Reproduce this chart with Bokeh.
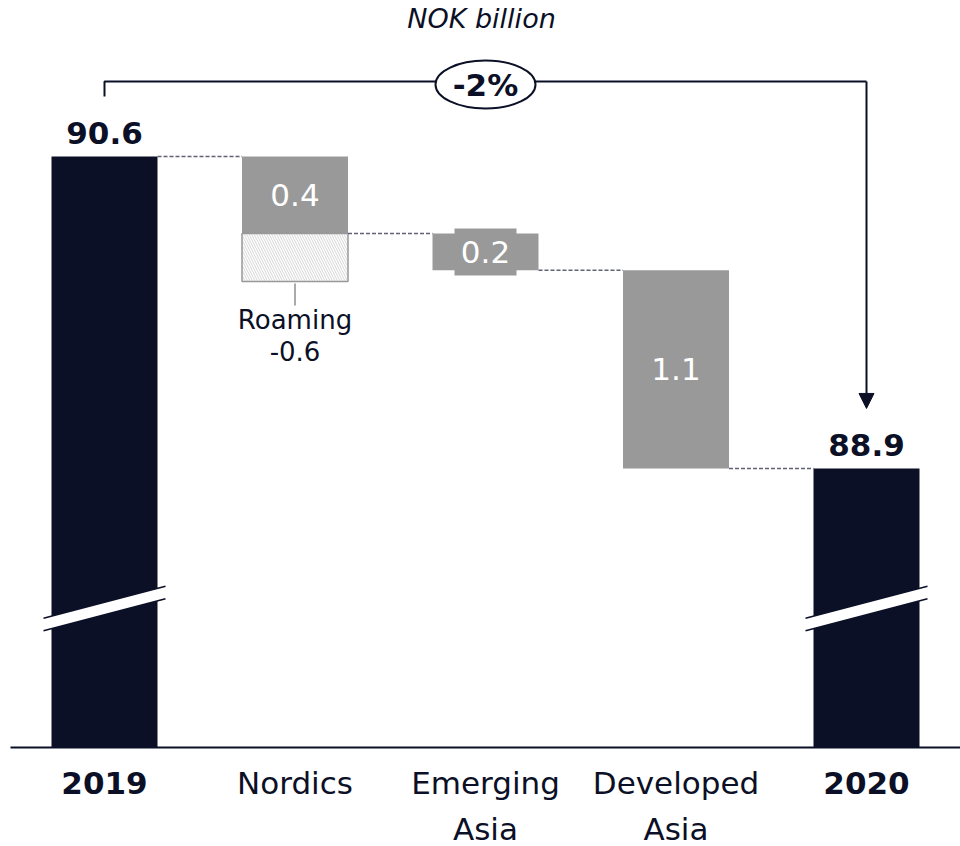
from bokeh.plotting import figure
from bokeh.models import Range1d, Arrow, NormalHead
from bokeh.core.properties import value
from bokeh.embed import file_html
from bokeh.resources import INLINE

# ---------------- data ----------------
categories = ["2019", "Nordics", "Emerging Asia", "Developed Asia", "2020"]
label_line1 = ["2019", "Nordics", "Emerging", "Developed", "2020"]
label_line2 = ["", "", "Asia", "Asia", ""]
start_value = 90.6
end_value = 88.9
changes = [-0.42, -0.20, -1.08]
change_labels = ["0.4", "0.2", "1.1"]
total_labels = ["90.6", "88.9"]
roaming_name = "Roaming"
roaming_value = "-0.6"
growth_label = "-2%"
unit_label = "NOK billion"

# ---------------- style ----------------
NAVY = "#0b1026"
GRAY = "#999999"
DASH = "#5f6274"
FONT = "DejaVu Sans"
K_X = 190.5          # px per category step
K_Y = 183.5          # px per NOK billion
W, H = 960, 846
BAR_W = 106 / K_X
FS = "31px"

x0 = -104 / K_X
x1 = x0 + W / K_X
y1 = start_value + 156 / K_Y
y0 = y1 - H / K_Y
base = start_value - 591 / K_Y     # broken-axis floor

p = figure(width=W, height=H, x_range=Range1d(x0, x1), y_range=Range1d(y0, y1),
           output_backend="svg", toolbar_location=None, min_border=0,
           min_border_left=0, min_border_right=0, min_border_top=0, min_border_bottom=0)
p.axis.visible = False
p.grid.visible = False
p.outline_line_color = None
p.background_fill_color = "white"

xs = list(range(len(categories)))

# totals
p.vbar(x=[xs[0], xs[-1]], top=[start_value, end_value], bottom=base, width=BAR_W,
       fill_color=NAVY, line_color=None)

# floating bars
tops, bottoms = [], []
level = start_value
for c in changes:
    tops.append(level)
    level = level + c
    bottoms.append(level)
mid_x = xs[1:-1]
p.vbar(x=mid_x, top=tops, bottom=bottoms, width=BAR_W, fill_color=GRAY, line_color=None)

# hatched roaming box under Nordics
hatch_h = 48 / K_Y
p.vbar(x=[mid_x[0]], top=[bottoms[0]], bottom=[bottoms[0] - hatch_h], width=BAR_W,
       fill_color="white", line_color=GRAY, line_width=1.5,
       hatch_pattern="left_diagonal_line", hatch_color="#d6d6d6", hatch_scale=5, hatch_weight=1)
p.segment(x0=[mid_x[0]], y0=[bottoms[0] - hatch_h - 2 / K_Y], x1=[mid_x[0]],
          y1=[bottoms[0] - hatch_h - 24 / K_Y], line_color="#aaaaaa", line_width=2)
p.text(x=[mid_x[0]], y=[bottoms[0] - hatch_h], text=[roaming_name], text_font=value(FONT),
       text_font_size="26px", text_align="center", text_baseline="middle",
       text_color=NAVY, y_offset=38)
p.text(x=[mid_x[0]], y=[bottoms[0] - hatch_h], text=[roaming_value], text_font=value(FONT),
       text_font_size="26px", text_align="center", text_baseline="middle",
       text_color=NAVY, y_offset=69)

# dashed connectors
levels = [start_value] + bottoms
for i, lv in enumerate(levels):
    p.line(x=[xs[i] + BAR_W / 2, xs[i + 1] - BAR_W / 2], y=[lv, lv],
           line_color=DASH, line_width=1.4, line_dash="4 2")

# label background patch for Emerging Asia value
p.rect(x=[mid_x[1]], y=[(tops[1] + bottoms[1]) / 2], width=62, height=47,
       width_units="screen", height_units="screen", fill_color=GRAY, line_color=None)

# bar value labels
p.text(x=mid_x, y=[(t + b) / 2 for t, b in zip(tops, bottoms)], text=change_labels,
       text_font=value(FONT), text_font_size=FS, text_align="center",
       text_baseline="middle", text_color="white")

# total labels
p.text(x=[xs[0]], y=[start_value], text=[total_labels[0]], text_font=value(FONT),
       text_font_size=FS, text_font_style="bold", text_align="center",
       text_baseline="middle", text_color=NAVY, y_offset=-24)
p.text(x=[xs[-1]], y=[end_value], text=[total_labels[1]], text_font=value(FONT),
       text_font_size=FS, text_font_style="bold", text_align="center",
       text_baseline="middle", text_color=NAVY, y_offset=-23)

# axis break marks
brk = start_value - 452 / K_Y
half = 61 / K_X
slope = 32 / K_Y            # total rise across the band
th = 6.25 / K_Y
for cx in [xs[0], xs[-1]]:
    lx, rx = cx - half, cx + half
    cl, cr = brk - slope / 2, brk + slope / 2
    p.patch(x=[lx, rx, rx, lx], y=[cl + th, cr + th, cr - th, cl - th],
            fill_color="white", line_color=None)
    p.multi_line(xs=[[lx, rx], [lx, rx]], ys=[[cl + th, cr + th], [cl - th, cr - th]],
                 line_color=NAVY, line_width=1.5)

# baseline
p.line(x=[x0 + 10 / K_X, x1], y=[base, base], line_color=NAVY, line_width=2)

# category labels
bold_idx = [0, len(xs) - 1]
norm_idx = [i for i in xs if i not in bold_idx]
p.text(x=[xs[i] for i in bold_idx], y=[base] * len(bold_idx),
       text=[label_line1[i] for i in bold_idx], text_font=value(FONT),
       text_font_size=FS, text_font_style="bold", text_align="center",
       text_baseline="middle", text_color=NAVY, y_offset=35)
p.text(x=[xs[i] for i in norm_idx], y=[base] * len(norm_idx),
       text=[label_line1[i] for i in norm_idx], text_font=value(FONT),
       text_font_size=FS, text_align="center",
       text_baseline="middle", text_color=NAVY, y_offset=35)
p.text(x=[xs[i] for i in norm_idx], y=[base] * len(norm_idx),
       text=[label_line2[i] for i in norm_idx], text_font=value(FONT),
       text_font_size=FS, text_align="center",
       text_baseline="middle", text_color=NAVY, y_offset=81)

# growth bracket
bracket_y = start_value + 75 / K_Y
p.line(x=[xs[0], xs[0], xs[-1]], y=[start_value + 60 / K_Y, bracket_y, bracket_y],
       line_color=NAVY, line_width=2)
p.add_layout(Arrow(end=NormalHead(size=15, fill_color=NAVY, line_color=NAVY),
                   x_start=xs[-1], y_start=bracket_y, x_end=xs[-1],
                   y_end=end_value + 60 / K_Y, line_color=NAVY, line_width=2))
p.ellipse(x=[(xs[0] + xs[-1]) / 2], y=[start_value + 72 / K_Y], width=100, height=48,
          width_units="screen", height_units="screen", fill_color="white",
          line_color=NAVY, line_width=2)
p.text(x=[(xs[0] + xs[-1]) / 2], y=[start_value + 72 / K_Y], text=[growth_label],
       text_font=value(FONT), text_font_size=FS, text_font_style="bold",
       text_align="center", text_baseline="middle", text_color=NAVY)

# unit title
p.text(x=[(xs[0] + xs[-1]) / 2 - 4 / K_X], y=[y1], text=[unit_label], text_font=value(FONT),
       text_font_size="27px", text_font_style="italic", text_align="center",
       text_baseline="middle", text_color=NAVY, y_offset=18)

open("out.html", "w").write(file_html(p, INLINE))
